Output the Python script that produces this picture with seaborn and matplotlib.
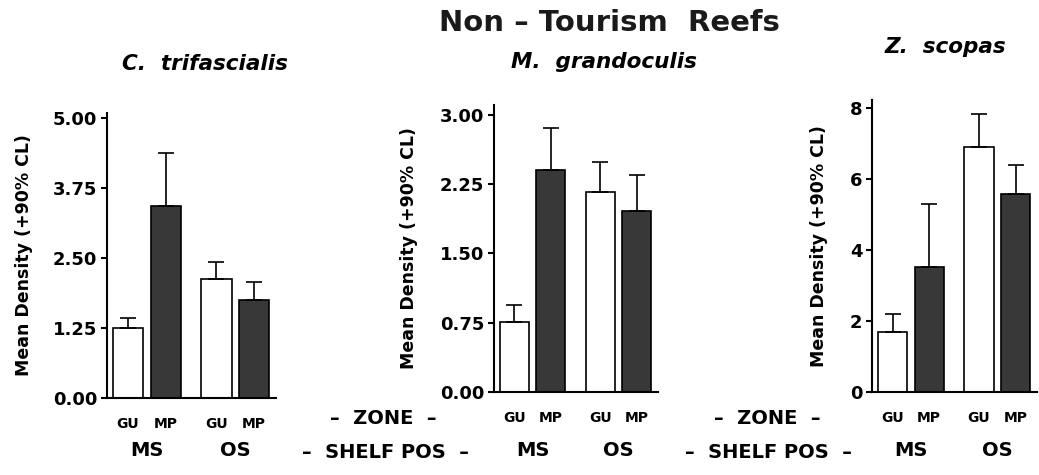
import matplotlib
matplotlib.use("Agg")
import matplotlib.pyplot as plt
import seaborn as sns
import pandas as pd

# values (mean density and upper 90% CL)
shelf = ["MS", "MS", "OS", "OS"]
zone = ["GU", "MP", "GU", "MP"]

ctri_mean = [1.25, 3.43, 2.13, 1.75]
ctri_upper = [1.43, 4.37, 2.43, 2.07]

mgra_mean = [0.76, 2.40, 2.17, 1.96]
mgra_upper = [0.94, 2.86, 2.49, 2.35]

zsco_mean = [1.69, 3.52, 6.90, 5.58]
zsco_upper = [2.20, 5.30, 7.83, 6.39]

ctri_ticks = [0, 1.25, 2.50, 3.75, 5.00]
mgra_ticks = [0, 0.75, 1.50, 2.25, 3.00]
zsco_ticks = [0, 2, 4, 6, 8]

sns.set_style("ticks")
plt.rcParams["font.family"] = ["DejaVu Sans"]
plt.rcParams["font.weight"] = "bold"
for k in ["text.color", "axes.labelcolor", "xtick.color", "ytick.color", "axes.edgecolor"]:
    plt.rcParams[k] = "black"

fig = plt.figure(figsize=(10.39, 4.75), dpi=100)
W, H = 1039, 475

panels = [
    # title, means, uppers, ticks, fmt, axes box in px (left, right, top, bottom), ylim top, label offset, title xy
    ("C.  trifascialis", ctri_mean, ctri_upper, ctri_ticks, "{:.2f}", (107, 276, 113, 398), 5.09, 74, (205, 64)),
    ("M.  grandoculis", mgra_mean, mgra_upper, mgra_ticks, "{:.2f}", (494, 658, 105, 392), 3.108, 76, (604, 62)),
    ("Z.  scopas", zsco_mean, zsco_upper, zsco_ticks, "{:.0f}", (872, 1037, 100, 392), 8.225, 44, (945, 47)),
]

for title, means, uppers, ticks, fmt, box, ytop, yoff, txy in panels:
    l, r, t, b = box
    ax = fig.add_axes([l / W, 1 - b / H, (r - l) / W, (b - t) / H])
    df = pd.DataFrame({"shelf": shelf, "zone": zone, "mean": means, "upper": uppers})
    sns.barplot(data=df, x="shelf", y="mean", hue="zone", order=["MS", "OS"],
                hue_order=["GU", "MP"], palette={"GU": "white", "MP": "#383838"},
                edgecolor="black", linewidth=1.2, width=0.85, gap=0.2,
                errorbar=None, legend=False, ax=ax)

    # one-sided error bars (upper 90% CL) placed on the bars seaborn drew
    xs, labs = [], []
    for p in ax.patches:
        xc = p.get_x() + p.get_width() / 2
        gi = int(round(xc))
        z = "GU" if xc < gi else "MP"
        row = df[(df.shelf == ["MS", "OS"][gi]) & (df.zone == z)].iloc[0]
        ax.errorbar(xc, row["mean"], yerr=[[0], [row["upper"] - row["mean"]]],
                    fmt="none", ecolor="black", elinewidth=1.2, capsize=5.5,
                    capthick=1.2, zorder=1)
        xs.append(xc)
        labs.append(z)

    ax.set_xlim(-0.45, 1.46)
    ax.set_ylim(0, ytop)
    ax.set_yticks(ticks)
    ax.set_yticklabels([fmt.format(v) for v in ticks], fontsize=13, fontweight="bold")
    order = sorted(range(len(xs)), key=lambda i: xs[i])
    ax.set_xticks([xs[i] for i in order])
    ax.set_xticklabels([labs[i] for i in order], fontsize=10, fontweight="bold")
    ax.tick_params(axis="x", length=0, pad=14)
    ax.tick_params(axis="y", length=4, width=1.5, direction="out", pad=3)
    for s in ["left", "bottom"]:
        ax.spines[s].set_linewidth(1.5)
    sns.despine(ax=ax)
    ax.set_xlabel("")
    ax.set_ylabel("Mean Density (+90% CL)", fontsize=12.5, fontweight="bold")
    ax.yaxis.set_label_coords(-yoff / (r - l), 0.5)

    for gi, name in enumerate(["MS", "OS"]):
        ax.annotate(name, xy=(gi, 1 - 451 / H), xycoords=("data", "figure fraction"),
                    ha="center", va="center", fontsize=14, fontweight="bold")

    fig.text(txy[0] / W, 1 - txy[1] / H, title, ha="center", va="center",
             fontsize=15.5, fontweight="bold", fontstyle="italic")

fig.text(609 / W, 1 - 23 / H, "Non – Tourism  Reefs", ha="center", va="center",
         fontsize=21, fontweight="bold", color="#1a1a1a")

for xc in [383, 767]:
    fig.text(xc / W, 1 - 418 / H, "–  ZONE  –", ha="center", va="center",
             fontsize=14, fontweight="bold")
for xc in [385, 768]:
    fig.text(xc / W, 1 - 452 / H, "–  SHELF POS  –", ha="center", va="center",
             fontsize=14, fontweight="bold")

fig.savefig("out.png", dpi=100)
